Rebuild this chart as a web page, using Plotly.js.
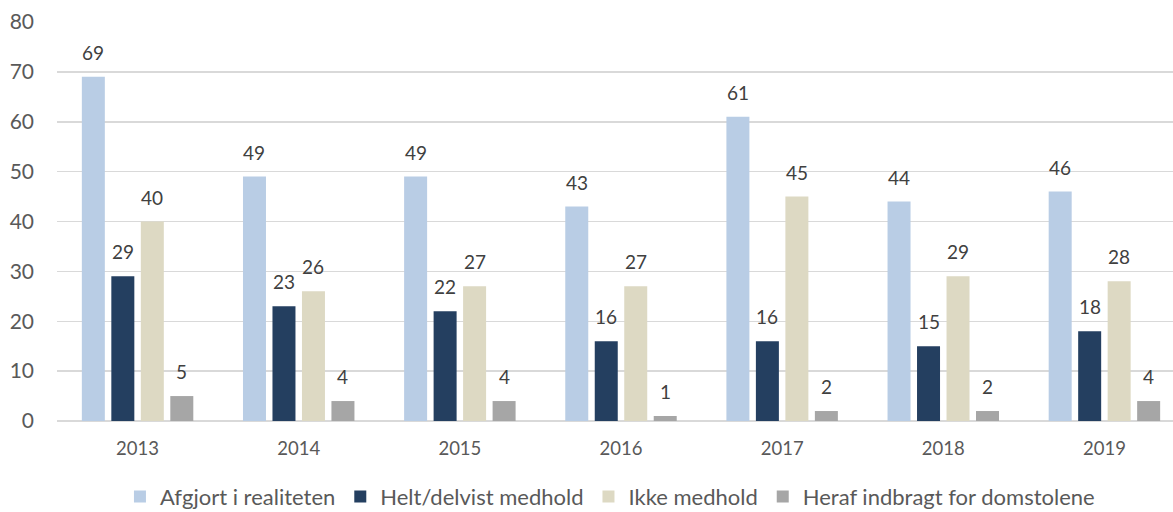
<!DOCTYPE html>
<html>
<head>
<meta charset="utf-8">
<script src="https://cdn.plot.ly/plotly-3.0.1.min.js"></script>
<style>html,body{margin:0;padding:0;background:#fff;}#chart{width:1173px;height:512px;}#err{position:absolute;top:0;left:300px;color:red;font:12px sans-serif;}</style>
</head>
<body>
<div id="chart"></div>
<div id="err"></div>
<script>
const years = ["2013","2014","2015","2016","2017","2018","2019"];
const seriesNames = ["Afgjort i realiteten","Helt/delvist medhold","Ikke medhold","Heraf indbragt for domstolene"];
const afgjort = [69,49,49,43,61,44,46];
const medhold = [29,23,22,16,16,15,18];
const ikkeMedhold = [40,26,27,27,45,29,28];
const domstole = [5,4,4,1,2,2,4];
const colors = ["#b9cde5","#243f60","#ddd9c3","#a6a6a6"];
const yTicks = [0,10,20,30,40,50,60,70,80];

const allSeries = [afgjort, medhold, ikkeMedhold, domstole];
const FONT = "Lato, sans-serif";
const slotPx = 29.5;

try {
const traces = allSeries.map((vals, i) => ({
  type: "bar",
  name: seriesNames[i],
  x: years,
  y: vals,
  marker: {color: colors[i]},
  hoverinfo: "x+y+name"
}));

const annotations = [];
allSeries.forEach((vals, i) => {
  vals.forEach((v, j) => {
    annotations.push({
      x: j, y: v, xref: "x", yref: "y",
      text: String(v), showarrow: false,
      yanchor: "bottom", xanchor: "center",
      xshift: (i - 1.5) * slotPx, yshift: 11,
      font: {family: FONT, size: 19, color: "#404040"}
    });
  });
});

const layout = {
  width: 1173, height: 512,
  margin: {l: 57, r: 0, t: 22, b: 91},
  paper_bgcolor: "#fff", plot_bgcolor: "#fff",
  barmode: "group", bargap: 0.268, bargroupgap: 0.22,
  font: {family: FONT, color: "#595959", size: 18},
  xaxis: {
    type: "category", range: [-0.5, 6.4256],
    showgrid: false, showline: false, zeroline: false,
    ticks: "", ticklabelstandoff: 14,
    tickfont: {family: FONT, size: 18.5, color: "#595959"}
  },
  yaxis: {
    range: [0, 80], tickvals: yTicks, ticktext: yTicks.map(String),
    showgrid: true, gridcolor: "#d9d9d9", gridwidth: 1.5,
    zeroline: true, zerolinecolor: "#d9d9d9", zerolinewidth: 1.5,
    showline: false, ticks: "", ticklabelstandoff: 22,
    tickfont: {family: FONT, size: 21, color: "#595959"}
  },
  showlegend: true,
  legend: {
    orientation: "h", xref: "container", yref: "container",
    x: 0.52, xanchor: "center", y: 0.03, yanchor: "middle",
    font: {family: FONT, size: 22, color: "#595959"},
    itemwidth: 30, traceorder: "normal"
  },
  annotations: annotations
};

Plotly.newPlot("chart", traces, layout, {displayModeBar: false, staticPlot: true}).catch(e => {document.getElementById("err").textContent = String(e);});
} catch (e) { document.getElementById("err").textContent = String(e); }
</script>
</body>
</html>
